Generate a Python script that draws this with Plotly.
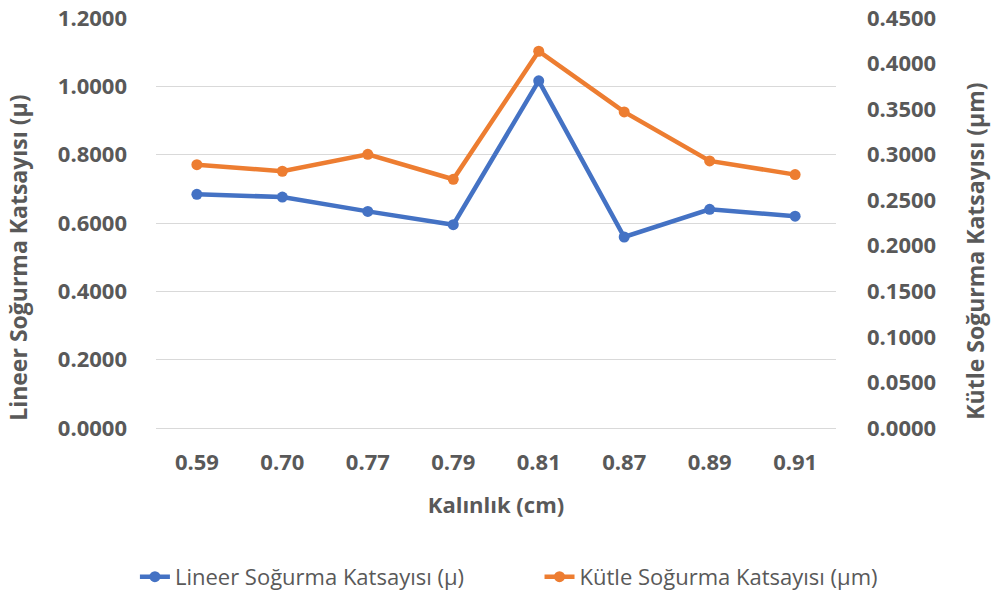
import plotly.graph_objects as go

# Kalınlık (cm) kategorileri
kalinlik = ["0.59", "0.70", "0.77", "0.79", "0.81", "0.87", "0.89", "0.91"]

# Lineer soğurma katsayısı (sol eksen)
lineer = [0.684, 0.676, 0.634, 0.595, 1.016, 0.559, 0.640, 0.620]

# Kütle soğurma katsayısı (sağ eksen)
kutle = [0.2890, 0.2818, 0.3004, 0.2730, 0.4135, 0.3469, 0.2931, 0.2781]

left_ticks = [0, 0.2, 0.4, 0.6, 0.8, 1.0, 1.2]
right_ticks = [0, 0.05, 0.10, 0.15, 0.20, 0.25, 0.30, 0.35, 0.40, 0.45]

BLUE = "#4472C4"
ORANGE = "#ED7D31"
GREY = "#595959"
FONT = "Open Sans"

fig = go.Figure()

fig.add_trace(go.Scatter(x=kalinlik, y=lineer, name="Lineer Soğurma Katsayısı (µ)",
                         mode="lines+markers", line=dict(color=BLUE, width=4.5),
                         marker=dict(size=11, color=BLUE), legend="legend"))

fig.add_trace(go.Scatter(x=kalinlik, y=kutle, name="Kütle Soğurma Katsayısı (µm)",
                         mode="lines+markers", line=dict(color=ORANGE, width=4.5),
                         marker=dict(size=11, color=ORANGE), yaxis="y2", legend="legend2"))

legend_style = dict(orientation="h", y=-0.363, yanchor="middle", xanchor="left",
                    font=dict(size=22, color=GREY), bgcolor="rgba(0,0,0,0)")
title_font = dict(size=23, color=GREY, weight="bold")

fig.update_layout(
    width=992, height=596,
    margin=dict(l=156, r=156, t=18, b=168, autoexpand=False),
    paper_bgcolor="white", plot_bgcolor="white",
    font=dict(family=FONT, color=GREY),
    showlegend=True,
    legend=dict(x=-0.031, **legend_style),
    legend2=dict(x=0.564, **legend_style),
    xaxis=dict(type="category", showgrid=False, showline=False, zeroline=False,
               ticks="", ticklabelstandoff=19, automargin=False,
               tickfont=dict(size=22, color=GREY, weight="bold"),
               title=dict(text="Kalınlık (cm)", standoff=22,
                          font=dict(size=22, color=GREY, weight="bold"))),
    yaxis=dict(range=[0, 1.2], tickvals=left_ticks, tickformat=".4f",
               showgrid=True, gridcolor="#D9D9D9", gridwidth=1,
               zeroline=True, zerolinecolor="#D9D9D9", zerolinewidth=1,
               showline=False, ticks="", ticklabelstandoff=28, automargin=False,
               tickfont=dict(size=22, color=GREY, weight="bold")),
    yaxis2=dict(range=[0, 0.45], tickvals=right_ticks, tickformat=".4f",
                overlaying="y", side="right", showgrid=False, zeroline=False,
                showline=False, ticks="", ticklabelstandoff=30, automargin=False,
                tickfont=dict(size=22, color=GREY, weight="bold")),
)

# axis titles sit a little below the plot centre, as in the source chart
fig.add_annotation(text="Lineer Soğurma Katsayısı (µ)", textangle=-90,
                   xref="paper", yref="paper", x=0, y=0.415, xshift=-138,
                   xanchor="center", yanchor="middle",
                   showarrow=False, font=title_font)
fig.add_annotation(text="Kütle Soğurma Katsayısı (µm)", textangle=-90,
                   xref="paper", yref="paper", x=1, y=0.43, xshift=139,
                   xanchor="center", yanchor="middle",
                   showarrow=False, font=title_font)

# the page body has a default 8px margin; drop it so the figure sits at 0,0
fig.write_html("out.html", config={"displayModeBar": False},
               post_script="document.body.style.margin='0';")
